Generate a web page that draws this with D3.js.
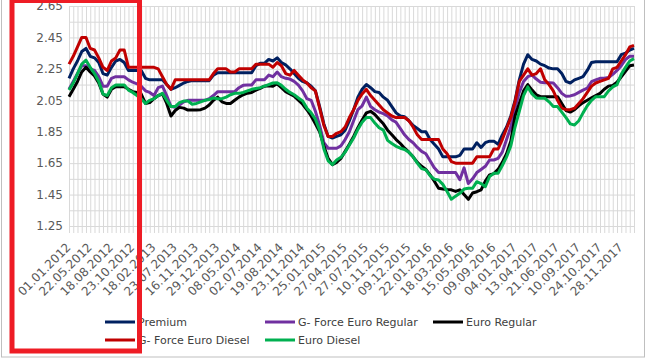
<!DOCTYPE html>
<html>
<head>
<meta charset="utf-8">
<script src="https://cdn.jsdelivr.net/npm/d3@7"></script>
<style>
  body { margin: 0; background: #fff; }
  svg { display: block; font-family: "DejaVu Sans", sans-serif; }
</style>
</head>
<body>
<div id="chart"></div>
<script>
// tick labels on the category axis (every 5th date)
var tickLabels = ["01.01.2012","22.05.2012","18.08.2012","23.10.2012","18.02.2013","23.07.2013",
  "16.11.2013","29.12.2013","08.05.2014","02.07.2014","19.08.2014","23.11.2014","25.01.2015",
  "27.04.2015","27.07.2015","10.11.2015","09.12.2015","22.01.2016","18.03.2016","15.05.2016",
  "09.09.2016","04.01.2017","13.04.2017","21.06.2017","10.09.2017","24.10.2017","28.11.2017"];

var seriesNames = ["Premium","G- Force Euro Regular","Euro Regular","G- Force Euro Diesel","Euro Diesel"];
var seriesColors = ["#002060","#7030a0","#000000","#c00000","#00b050"];

var premium = [2.19,2.25,2.30,2.36,2.38,2.33,2.32,2.29,2.22,2.21,2.26,2.30,2.31,2.29,2.24,2.24,2.24,2.24,2.19,2.18,
  2.18,2.18,2.18,2.15,2.12,2.13,2.145,2.16,2.17,2.175,2.175,2.175,2.175,2.175,2.21,2.225,2.225,2.225,2.225,2.225,
  2.225,2.225,2.225,2.225,2.27,2.285,2.285,2.31,2.30,2.32,2.29,2.275,2.25,2.22,2.19,2.17,2.16,2.14,2.11,2.01,
  1.90,1.82,1.81,1.82,1.83,1.86,1.92,1.99,2.07,2.12,2.15,2.13,2.105,2.10,2.07,2.05,2.01,1.97,1.95,1.945,
  1.92,1.89,1.87,1.85,1.85,1.80,1.77,1.74,1.69,1.69,1.69,1.69,1.70,1.74,1.74,1.74,1.78,1.75,1.78,1.79,
  1.79,1.77,1.83,1.88,1.95,2.05,2.18,2.28,2.34,2.31,2.30,2.28,2.27,2.255,2.25,2.25,2.22,2.17,2.16,2.18,
  2.19,2.20,2.24,2.29,2.295,2.295,2.295,2.295,2.295,2.295,2.34,2.35,2.37,2.38];

var gforceRegular = [2.12,2.17,2.22,2.27,2.27,2.25,2.24,2.20,2.14,2.14,2.19,2.20,2.20,2.20,2.18,2.165,2.155,2.14,2.11,2.10,
  2.08,2.13,2.14,2.08,2.01,2.005,2.02,2.04,2.05,2.05,2.05,2.05,2.05,2.06,2.08,2.105,2.105,2.105,2.105,2.105,
  2.13,2.145,2.147,2.147,2.18,2.18,2.18,2.21,2.20,2.23,2.20,2.19,2.185,2.17,2.147,2.11,2.06,2.05,1.98,1.89,
  1.78,1.745,1.745,1.745,1.76,1.80,1.85,1.92,1.99,2.015,2.07,2.01,1.99,1.975,1.965,1.95,1.925,1.91,1.87,1.83,
  1.80,1.78,1.75,1.725,1.71,1.665,1.62,1.59,1.59,1.59,1.59,1.59,1.545,1.62,1.52,1.55,1.59,1.61,1.63,1.67,
  1.67,1.68,1.72,1.80,1.88,2.00,2.10,2.17,2.20,2.21,2.185,2.165,2.162,2.162,2.16,2.13,2.094,2.075,2.078,2.085,
  2.10,2.115,2.128,2.168,2.18,2.19,2.19,2.195,2.215,2.24,2.27,2.31,2.33,2.33];

var euroRegular = [2.073,2.12,2.17,2.23,2.26,2.23,2.205,2.16,2.09,2.07,2.12,2.136,2.136,2.136,2.12,2.105,2.10,2.09,2.03,2.035,
  2.06,2.08,2.09,2.03,1.95,1.985,2.005,2.00,1.988,1.988,1.988,1.99,2.00,2.02,2.05,2.07,2.04,2.03,2.03,2.05,
  2.07,2.085,2.095,2.10,2.115,2.126,2.14,2.143,2.14,2.155,2.13,2.105,2.09,2.076,2.05,2.025,1.99,1.95,1.90,1.85,
  1.76,1.68,1.64,1.655,1.68,1.725,1.77,1.82,1.875,1.925,1.97,1.98,1.96,1.93,1.90,1.86,1.83,1.80,1.775,1.745,
  1.72,1.69,1.655,1.63,1.61,1.575,1.535,1.49,1.485,1.482,1.48,1.47,1.48,1.45,1.42,1.46,1.468,1.48,1.535,1.575,
  1.583,1.61,1.655,1.71,1.79,1.95,2.03,2.11,2.15,2.115,2.085,2.073,2.073,2.073,2.073,2.073,2.03,1.985,1.975,1.99,
  2.015,2.035,2.05,2.065,2.08,2.094,2.12,2.14,2.145,2.165,2.20,2.235,2.27,2.274];

var gforceDiesel = [2.28,2.33,2.39,2.45,2.45,2.38,2.37,2.32,2.26,2.24,2.30,2.32,2.37,2.37,2.26,2.26,2.26,2.26,2.26,2.26,
  2.26,2.25,2.20,2.15,2.12,2.18,2.18,2.18,2.18,2.18,2.18,2.18,2.18,2.18,2.22,2.25,2.25,2.25,2.23,2.23,
  2.25,2.25,2.25,2.25,2.28,2.28,2.28,2.28,2.26,2.29,2.27,2.22,2.21,2.24,2.21,2.18,2.16,2.13,2.11,2.00,
  1.89,1.82,1.82,1.84,1.85,1.88,1.94,1.99,2.05,2.09,2.12,2.08,2.05,2.02,1.99,1.97,1.95,1.94,1.94,1.94,
  1.92,1.88,1.83,1.80,1.80,1.80,1.80,1.80,1.74,1.71,1.66,1.65,1.65,1.65,1.65,1.65,1.69,1.69,1.69,1.69,
  1.74,1.74,1.80,1.87,1.94,2.04,2.17,2.21,2.25,2.21,2.22,2.25,2.18,2.15,2.11,2.05,2.00,1.99,1.99,2.00,
  2.03,2.06,2.10,2.14,2.16,2.17,2.18,2.19,2.25,2.26,2.30,2.34,2.39,2.40];

var euroDiesel = [2.115,2.16,2.22,2.28,2.305,2.26,2.22,2.17,2.09,2.08,2.13,2.147,2.147,2.147,2.115,2.10,2.08,2.06,2.03,2.05,
  2.06,2.08,2.094,2.05,2.01,2.01,2.035,2.045,2.045,2.025,2.03,2.04,2.05,2.055,2.065,2.06,2.06,2.07,2.085,2.094,
  2.094,2.10,2.11,2.12,2.125,2.13,2.14,2.15,2.16,2.162,2.145,2.12,2.10,2.085,2.065,2.045,2.00,1.97,1.93,1.86,
  1.74,1.665,1.64,1.67,1.687,1.72,1.765,1.81,1.865,1.91,1.94,1.94,1.905,1.875,1.86,1.795,1.775,1.757,1.745,1.737,
  1.72,1.69,1.65,1.615,1.607,1.57,1.548,1.543,1.515,1.47,1.42,1.44,1.458,1.485,1.49,1.49,1.532,1.52,1.50,1.565,
  1.585,1.585,1.635,1.69,1.76,1.88,1.98,2.08,2.135,2.09,2.065,2.063,2.063,2.04,2.01,2.01,1.975,1.94,1.90,1.893,
  1.92,1.97,2.015,2.05,2.073,2.073,2.073,2.11,2.135,2.15,2.215,2.26,2.30,2.315];

var seriesValues = [premium, gforceRegular, euroRegular, gforceDiesel, euroDiesel];

var W = 652, H = 363;
var plot = {left: 69, right: 634, top: 6, bottom: 226};

var svg = d3.select("#chart").append("svg")
    .attr("width", W)
    .attr("height", H);

// chart border
svg.append("rect")
    .attr("x", 1.5).attr("y", -5)
    .attr("width", 643).attr("height", 362)
    .attr("fill", "#fff")
    .attr("stroke", "#bfbfbf");

var x = d3.scalePoint()
    .domain(d3.range(premium.length))
    .range([plot.left, plot.right]);

var y = d3.scaleLinear()
    .domain([1.25, 2.65])
    .range([plot.bottom, plot.top]);

// vertical gridlines, one per category, running a little below the plot
var vgrid = svg.append("g")
    .attr("transform", "translate(0," + (plot.bottom + 7) + ")")
    .call(d3.axisBottom(x).tickSize(-(plot.bottom + 7 - plot.top)).tickFormat(""));
vgrid.select(".domain").remove();
vgrid.selectAll("line").attr("stroke", "#d9d9d9");

// horizontal gridlines every 0.1
var hgrid = svg.append("g")
    .attr("transform", "translate(" + plot.left + ",0)")
    .call(d3.axisLeft(y).tickValues(d3.range(14, -1, -1).map(function(k) { return 1.25 + k * 0.1; }))
      .tickSize(-(plot.right - plot.left)).tickFormat(""));
hgrid.select(".domain").remove();
hgrid.selectAll("line").attr("stroke", "#d9d9d9");

// y labels
var yAxis = svg.append("g")
    .attr("transform", "translate(" + plot.left + ",0)")
    .call(d3.axisLeft(y).tickValues([1.25, 1.45, 1.65, 1.85, 2.05, 2.25, 2.45, 2.65])
      .tickSize(0).tickPadding(6).tickFormat(d3.format(".2f")));
yAxis.select(".domain").remove();
yAxis.selectAll("text")
    .style("font-size", "12px")
    .style("font-family", "DejaVu Sans")
    .attr("fill", "#595959");

// x labels, rotated
var xAxis = svg.append("g")
    .attr("transform", "translate(0," + plot.bottom + ")")
    .call(d3.axisBottom(x).tickValues(d3.range(0, premium.length, 5))
      .tickSize(0).tickFormat(function(d, i) { return tickLabels[i]; }));
xAxis.select(".domain").remove();
xAxis.selectAll("text")
    .attr("y", 0).attr("dy", "0.35em")
    .attr("transform", "translate(-1,19) rotate(-45)")
    .style("text-anchor", "end")
    .style("font-size", "12px")
    .style("font-family", "DejaVu Sans")
    .attr("fill", "#595959");

// series lines
var line = d3.line()
    .x(function(d, i) { return x(i); })
    .y(function(d) { return y(d); });

svg.append("g")
  .selectAll("path")
  .data(seriesValues)
  .enter()
  .append("path")
    .attr("d", line)
    .attr("fill", "none")
    .attr("stroke", function(d, i) { return seriesColors[i]; })
    .attr("stroke-width", 3)
    .attr("stroke-linejoin", "round");

// legend
var legendPos = [[105, 322], [265, 322], [433, 322], [105, 340], [265, 340]];
var legend = svg.append("g")
  .selectAll("g")
  .data(seriesNames)
  .enter()
  .append("g")
    .attr("transform", function(d, i) { return "translate(" + legendPos[i][0] + "," + legendPos[i][1] + ")"; });
legend.append("line")
    .attr("x1", 0).attr("x2", 30)
    .attr("stroke", function(d, i) { return seriesColors[i]; })
    .attr("stroke-width", 3);
legend.append("text")
    .attr("x", 33).attr("dy", "0.35em")
    .style("font-size", "11px")
    .attr("fill", "#404040")
    .text(function(d) { return d; });

// red highlight box drawn over the chart
svg.append("rect")
    .attr("x", 12).attr("y", 0.5)
    .attr("width", 127.5).attr("height", 350.5)
    .attr("fill", "none")
    .attr("stroke", "#ee1c25")
    .attr("stroke-width", 5);
</script>
</body>
</html>
